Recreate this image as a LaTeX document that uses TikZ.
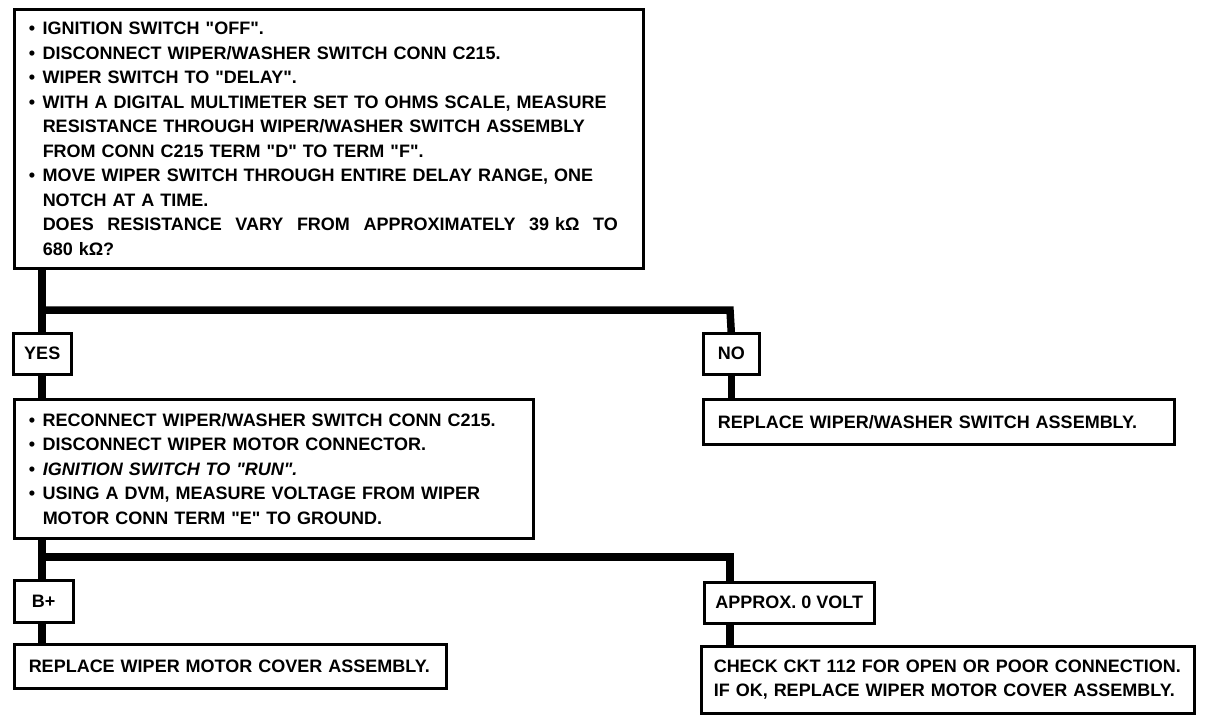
\documentclass[tikz,border=0pt]{standalone}
\usepackage{fontspec}
\setmainfont{Liberation Sans}
\usetikzlibrary{calc}
\newcommand\bul{\makebox[14pt][l]{•}}
\newcommand\ind{\hspace*{14pt}}
\newcommand\qq{\textquotedbl}
\begin{document}
\begin{tikzpicture}[x=1pt,y=-1pt,
  box/.style={draw,line width=2.5pt,fill=white,anchor=north west,align=left,
    inner xsep=14.5pt,inner ysep=0pt,font=\bfseries\fontsize{18}{24.5}\selectfont},
  lbl/.style={draw,line width=2.5pt,fill=white,anchor=north west,align=center,
    inner sep=0pt,font=\bfseries\fontsize{18}{24.5}\selectfont},
  conn/.style={line width=7.5pt}]
\useasboundingbox (0,0) rectangle (1216,720);

% boxes
\node[box,text width=600pt,minimum width=629pt,minimum height=259pt] (top) at (13,8)
 {\bul IGNITION SWITCH \qq OFF\qq.\\
  \bul DISCONNECT WIPER/WASHER SWITCH CONN C215.\\
  \bul WIPER SWITCH TO \qq DELAY\qq.\\
  \bul WITH A DIGITAL MULTIMETER SET TO OHMS SCALE, MEASURE\\
  \ind RESISTANCE THROUGH WIPER/WASHER SWITCH ASSEMBLY\\
  \ind FROM CONN C215 TERM \qq D\qq{} TO TERM \qq F\qq.\\
  \bul MOVE WIPER SWITCH THROUGH ENTIRE DELAY RANGE, ONE\\
  \ind NOTCH AT A TIME.\\
  \ind\makebox[575pt][l]{DOES\hfill RESISTANCE\hfill VARY\hfill FROM\hfill APPROXIMATELY\hfill 39 kΩ\hfill TO}\\
  \ind 680 kΩ?};

\node[lbl,minimum width=58pt,minimum height=41pt] (yes) at (12,332) {YES};
\node[lbl,minimum width=56pt,minimum height=41pt] (no) at (702,332) {NO};

\node[box,text width=490pt,minimum width=519pt,minimum height=139pt] (meas) at (13,398)
 {\bul RECONNECT WIPER/WASHER SWITCH CONN C215.\\
  \bul DISCONNECT WIPER MOTOR CONNECTOR.\\
  \bul {\itshape IGNITION SWITCH TO \qq RUN\qq.}\\
  \bul USING A DVM, MEASURE VOLTAGE FROM WIPER\\
  \ind MOTOR CONN TERM \qq E\qq{} TO GROUND.};

\node[box,text width=442pt,minimum width=471pt,minimum height=45pt] (repsw) at (702,398)
 {REPLACE WIPER/WASHER SWITCH ASSEMBLY.};

\node[lbl,minimum width=59pt,minimum height=42pt] (bplus) at (13,579) {B+};
\node[lbl,minimum width=170pt,minimum height=41pt] (approx) at (703,581) {APPROX. 0 VOLT};

\node[box,text width=403pt,minimum width=432pt,minimum height=44pt] (repmot) at (13,643)
 {REPLACE WIPER MOTOR COVER ASSEMBLY.};

\node[box,text width=468pt,inner xsep=12.5pt,minimum width=493pt,minimum height=67pt] (check) at (700,645)
 {CHECK CKT 112 FOR OPEN OR POOR CONNECTION.\\
  IF OK, REPLACE WIPER MOTOR COVER ASSEMBLY.};

% connectors
\coordinate (j1) at (42,310);
\coordinate (k1) at (730,310);
\coordinate (j2) at (42,557);
\coordinate (k2) at (730,557);

\draw[conn] (top.south -| j1) -- (j1 |- yes.north);
\draw[conn] (j1) -- (k1) -- (no.north);
\draw[conn] (j1 |- yes.south) -- (j1 |- meas.north);
\draw[conn] (no.south) -- (no.south |- repsw.north);

\draw[conn] (meas.south -| j2) -- (j2 |- bplus.north);
\draw[conn] (j2) -- (k2) -- (k2 |- approx.north);
\draw[conn] (j2 |- bplus.south) -- (j2 |- repmot.north);
\draw[conn] (k2 |- approx.south) -- (k2 |- check.north);
\end{tikzpicture}
\end{document}
